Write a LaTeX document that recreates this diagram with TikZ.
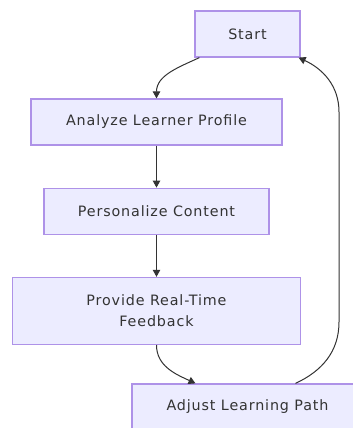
\documentclass[tikz,border=0pt]{standalone}
\usepackage{fontspec}
\setmainfont[LetterSpace=6]{DejaVu Sans}
\usepackage{tikz}
\usetikzlibrary{positioning, arrows.meta}
\definecolor{boxfill}{HTML}{ECECFF}
\definecolor{boxline}{HTML}{AE92E8}
\definecolor{inkgray}{HTML}{333333}

\begin{document}
\begin{tikzpicture}[
    node distance=42pt,
    procbox/.style={rectangle, draw=boxline, fill=boxfill, line width=1.2pt,
        minimum height=46pt, inner sep=0pt, text=inkgray, align=center,
        font=\fontsize{14.3pt}{20.5pt}\selectfont},
    flow/.style={draw=inkgray, line width=1pt,
        -{Triangle[length=7pt, width=7.5pt]}}
]
    \clip (0,0) rectangle (353pt,-428pt);

    % Define nodes
    \node[procbox, minimum width=105pt] (start) at (247.5pt,-34pt) {Start};
    \node[procbox, minimum width=251pt] (analyze) at (156.5pt,-122pt) {Analyze Learner Profile};
    \node[procbox, minimum width=225pt, below=of analyze] (personalize) {Personalize Content};
    \node[procbox, minimum width=288pt, minimum height=67pt, below=of personalize] (feedback) {Provide Real-Time\\Feedback};
    \node[procbox, minimum width=231pt] (adjust) at (247.5pt,-407pt) {Adjust Learning Path};

    % Right-hand return lane
    \coordinate (lanelow) at (339pt,-322pt);
    \coordinate (lanehigh) at (339pt,-112pt);

    % Transitions
    \path[flow] ([xshift=5pt]start.south west) to[out=-155, in=90] (analyze.north);
    \path[flow] (analyze) -- (personalize);
    \path[flow] (personalize) -- (feedback);
    \path[flow] (feedback.south) to[out=-90, in=155] ([xshift=-52pt]adjust.north);
    \path[flow] ([xshift=48pt]adjust.north) to[out=25, in=-90] (lanelow)
        -- (lanehigh) to[out=90, in=-25] ([xshift=-2pt]start.south east);
\end{tikzpicture}
\end{document}
